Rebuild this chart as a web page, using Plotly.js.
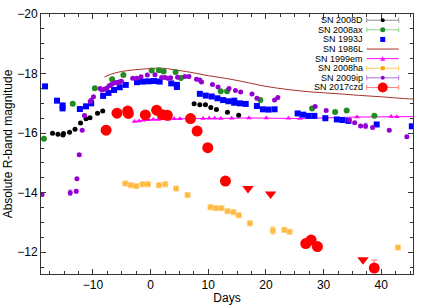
<!DOCTYPE html>
<html><head><meta charset="utf-8">
<script src="https://cdn.plot.ly/plotly-3.0.1.min.js"></script>
<style>html,body{margin:0;padding:0;background:#fff}#chart{width:436px;height:305px}</style>
</head><body><div id="chart"></div>
<script>
// ---- data (days since peak, absolute R magnitude) ----
const sn2008dDays = [-17.0,-16.06,-15.2,-15.1,-14.05,-13.1,-12.15,-11.2,-10.5,-9.2,-8.3,7.55,8.54,9.52,10.44,11.42,13.33,15.28];
const sn2008dMags = [-16.0,-15.96,-15.94,-15.99,-16.03,-16.13,-16.34,-16.48,-16.52,-16.67,-16.74,-16.99,-16.95,-16.95,-16.86,-16.79,-16.70,-16.60];

const sn2008axDays = [-18.5,-13.5,-9.66,-6.67,-4.72,0.19,1.45,2.26,4.34,5.25,12.17,13.26,19.03,28.0,32.0,34.0,38.8];
const sn2008axMags = [-15.81,-16.99,-17.51,-17.81,-17.95,-18.10,-18.11,-18.07,-18.05,-17.85,-17.41,-17.41,-17.11,-16.83,-16.71,-16.76,-16.58];

const sn1993jDays = [-18.3,-16.23,-15.26,-15.26,-12.26,-11.2,-10.3,-8.23,-7.3,-6.33,-5.34,-4.3,-2.35,-1.31,-0.33,0.59,1.57,3.58,4.56,4.56,8.54,9.57,10.6,11.6,12.57,13.5,14.5,14.5,15.5,16.5,18.44,19.48,20.46,21.5,25.5,26.46,27.4,28.4,30.3,32.3,33.25,34.3,39.2,45.3];
const sn1993jMags = [-17.57,-17.09,-16.93,-16.83,-16.81,-16.9,-17.0,-17.25,-17.35,-17.45,-17.54,-17.62,-17.71,-17.73,-17.74,-17.75,-17.73,-17.67,-17.62,-17.55,-17.32,-17.26,-17.23,-17.17,-17.11,-17.07,-17.09,-17.02,-17.0,-16.98,-16.91,-16.80,-16.79,-16.8,-16.66,-16.62,-16.58,-16.58,-16.50,-16.46,-16.44,-16.41,-16.29,-16.23];

const sn1986lDays = [-8,-6,-4,-2,0,2,4,7,10,13,16,20,24,28,32,36,40,44,46];
const sn1986lMags = [-17.89,-18.03,-18.10,-18.14,-18.17,-18.18,-18.13,-18.04,-17.93,-17.84,-17.73,-17.57,-17.46,-17.38,-17.33,-17.27,-17.22,-17.16,-17.14];

const sn1999emDays = [-2.8,-2.0,-1.26,-0.4,0.47,1.33,2.49,3.06,4.10,5.08,6.98,9.11,10.15,11.13,12.17,14.07,17.06,20.06,23.9,25.9,35.8,41.7,42.7,48];
const sn1999emMags = [-16.39,-16.41,-16.43,-16.45,-16.46,-16.46,-16.48,-16.47,-16.48,-16.48,-16.49,-16.49,-16.50,-16.50,-16.49,-16.50,-16.51,-16.51,-16.50,-16.49,-16.54,-16.56,-16.55,-16.56];

const sn2008haDays = [-4.37,-3.44,-2.47,-1.37,-0.45,1.45,2.54,4.44,6.41,10.39,11.3,12.29,13.33,14.36,15.28,17.23,21.2,23.2,24.1,42.9];
const sn2008haMags = [-14.31,-14.25,-14.22,-14.28,-14.28,-14.25,-14.28,-14.14,-13.92,-13.51,-13.48,-13.48,-13.38,-13.34,-13.24,-12.97,-12.73,-12.75,-12.69,-12.16];
const sn2008haErr  = [0.03,0.03,0.03,0.03,0.03,0.03,0.03,0.03,0.03,0.03,0.03,0.03,0.03,0.03,0.03,0.03,0.12,0.05,0.04,0.03];

const sn2009ipDays = [-18.82,-13.93,-12.89,-12.77,-12.37,-11.86,-11.46,-10.47,-10.30,-9.90,-8.75,-8.45,-8.0,-7.59,-7.19,-6.79,-6.33,-5.93,-5.46,-5.06,-3.09,-2.40,-1.66,-0.57,0.76,1.92,2.49,2.96,3.47,4.68,5.95,6.64,7.97,8.54,8.83,10.73,11.70,13.60,14.71,15.62,17.58,18.44,21.50,22.07,28.53,30.44,34.46,35.38,36.42,37.28,38.49,41.38,44.43];
const sn2009ipMags = [-13.94,-14.0,-14.05,-14.47,-15.27,-16.10,-16.59,-17.06,-17.10,-17.22,-17.50,-17.45,-17.47,-17.51,-17.59,-17.63,-17.68,-17.70,-17.72,-17.74,-17.84,-17.84,-17.89,-17.95,-17.96,-17.87,-17.87,-17.84,-17.86,-17.88,-17.90,-17.90,-17.81,-17.78,-17.72,-17.63,-17.55,-17.50,-17.43,-17.38,-17.31,-17.17,-17.11,-17.20,-16.89,-16.76,-16.43,-16.35,-16.24,-16.24,-16.19,-16.10,-15.88];
const sn2009ipErr  = [0.06,0.09,0.06,0.04,0.04,0.03,0.03,0.03,0.03,0.03,0.03,0.03,0.03,0.03,0.03,0.03,0.03,0.03,0.03,0.03,0.03,0.03,0.03,0.03,0.03,0.03,0.03,0.03,0.03,0.03,0.03,0.03,0.03,0.03,0.03,0.03,0.03,0.03,0.03,0.03,0.03,0.03,0.03,0.03,0.03,0.03,0.03,0.03,0.04,0.09,0.03,0.03,0.05];

const sn2017czdDays = [-7.71,-5.82,-3.96,-3.85,-0.91,1.05,2.05,2.9,6.93,8.07,9.92,12.98,26.91,27.84,28.93,38.78];
const sn2017czdMags = [-16.10,-16.67,-16.74,-16.66,-16.61,-16.77,-16.62,-16.60,-16.49,-16.07,-15.51,-14.39,-12.29,-12.41,-12.19,-11.47];
const sn2017czdErrUp = [0.05,0.05,0.05,0.05,0.05,0.05,0.05,0.05,0.05,0.05,0.05,0.05,0.08,0.08,0.08,0.27];
const sn2017czdLimDays = [16.89,20.81,36.83];
const sn2017czdLimMags = [-14.14,-13.96,-11.75];

const legendNames = ["SN 2008D","SN 2008ax","SN 1993J","SN 1986L","SN 1999em","SN 2008ha","SN 2009ip","SN 2017czd"];

// ---- traces ----
const C = {d:'#000000', ax:'#228b22', j:'#0000ff', l:'#a8322a', em:'#ff00ff', ha:'#ffa500', ip:'#9400d3', cz:'#ff0000'};
const traces = [
  {x:sn1986lDays, y:sn1986lMags, mode:'lines', line:{color:C.l, width:1, shape:'spline'}},
  {x:sn1999emDays, y:sn1999emMags, mode:'lines+markers', line:{color:C.em, width:1}, marker:{symbol:'triangle-up', size:5, color:C.em}},
  {x:sn2008dDays, y:sn2008dMags, mode:'markers', marker:{symbol:'circle', size:5, color:C.d},
   error_y:{type:'constant', value:0.02, color:'#888', thickness:1, width:1}},
  {x:sn2008axDays, y:sn2008axMags, mode:'markers', marker:{symbol:'circle', size:6, color:C.ax},
   error_y:{type:'constant', value:0.02, color:'#8fd18f', thickness:1, width:1}},
  {x:sn1993jDays, y:sn1993jMags, mode:'markers', marker:{symbol:'square', size:6, color:C.j}},
  {x:sn2008haDays, y:sn2008haMags, mode:'markers', marker:{symbol:'square-x', size:5, color:C.ha, line:{color:'#ffd080', width:1}},
   error_y:{type:'data', array:sn2008haErr, color:'#ffc060', thickness:1, width:2}},
  {x:sn2009ipDays, y:sn2009ipMags, mode:'markers', marker:{symbol:'circle', size:5, color:C.ip},
   error_y:{type:'data', array:sn2009ipErr, color:'#b070e0', thickness:1, width:2}},
  {x:sn2017czdDays, y:sn2017czdMags, mode:'markers', marker:{symbol:'circle', size:11, color:C.cz},
   error_y:{type:'data', array:sn2017czdErrUp.map(()=>0.05), arrayminus:sn2017czdErrUp, color:'#ff7070', thickness:1, width:3}},
  {x:sn2017czdLimDays, y:sn2017czdLimMags, mode:'markers', marker:{symbol:'triangle-down', size:10, color:C.cz}}
];
traces.forEach(t=>{t.showlegend=false; t.type='scatter'; t.hoverinfo='skip';});

// ---- custom legend (pixel layout -> paper) ----
const L=41, R=413.3, T=14.3, B=274;
const px = v => (v-L)/(R-L);
const py = v => (B-v)/(B-T);
const annotations = [], shapes = [];
const rowY0 = 20.5, rowDY = 9.6, textX = 364, lx0 = 367, lx1 = 399, mx = 383;
const legendStyle = [
  {bar:'#909090', mk:{t:'circle', r:2, c:C.d}},
  {bar:'#90d090', mk:{t:'circle', r:2.5, c:C.ax}},
  {bar:null, mk:{t:'rect', r:2.5, c:C.j}},
  {bar:C.l, line:true, mk:null},
  {bar:C.em, line:true, mk:{t:'tri', r:2, c:C.em}},
  {bar:'#ffc860', mk:{t:'rect', r:2, c:C.ha}},
  {bar:'#b070e0', mk:{t:'circle', r:2, c:C.ip}},
  {bar:'#ff8080', mk:{t:'circle', r:5, c:C.cz}}
];
legendNames.forEach((name,i)=>{
  const y = rowY0 + i*rowDY;
  annotations.push({xref:'paper', yref:'paper', x:px(textX), y:py(y), xanchor:'right', yanchor:'middle',
    text:name, showarrow:false, borderpad:0, font:{size:9, color:'#000'}});
  const st = legendStyle[i];
  if (st.bar) {
    shapes.push({type:'line', xref:'paper', yref:'paper', x0:px(lx0), x1:px(lx1), y0:py(y), y1:py(y), line:{color:st.bar, width:1}});
    if (!st.line) {
      [lx0,lx1].forEach(xx=>shapes.push({type:'line', xref:'paper', yref:'paper', x0:px(xx), x1:px(xx), y0:py(y-2.5), y1:py(y+2.5), line:{color:st.bar, width:1}}));
    }
  }
  if (st.mk) {
    const m = st.mk;
    if (m.t==='tri') {
      shapes.push({type:'path', xref:'paper', yref:'paper', xsizemode:'pixel', ysizemode:'pixel', xanchor:px(mx), yanchor:py(y),
        path:`M ${-m.r-0.5} ${-m.r} L ${m.r+0.5} ${-m.r} L 0 ${m.r+0.5} Z`, fillcolor:m.c, line:{width:0}});
    } else {
      shapes.push({type:m.t, xref:'paper', yref:'paper', xsizemode:'pixel', ysizemode:'pixel', xanchor:px(mx), yanchor:py(y),
        x0:-m.r, x1:m.r, y0:-m.r, y1:m.r, fillcolor:m.c, line:{width:0}});
    }
  }
});

const axisCommon = {ticks:'inside', ticklen:5, tickwidth:1, tickcolor:'#333', mirror:'allticks', showline:true,
  linecolor:'#333', linewidth:1, showgrid:false, zeroline:false, tickfont:{size:12, color:'#000'}};

const layout = {
  width:436, height:305,
  margin:{l:L, r:436-R, t:T, b:305-B},
  paper_bgcolor:'#fff', plot_bgcolor:'#fff',
  font:{family:'"Liberation Sans", Arial, sans-serif', size:12, color:'#000'},
  showlegend:false,
  xaxis: Object.assign({}, axisCommon, {range:[-19.0,45.5], tick0:0, dtick:10,
    minor:{dtick:2.5, ticks:'inside', ticklen:3, tickcolor:'#333'},
    title:{text:'Days', font:{size:12}, standoff:2}}),
  yaxis: Object.assign({}, axisCommon, {range:[-11.27,-20], tick0:0, dtick:2,
    minor:{dtick:0.5, ticks:'inside', ticklen:3, tickcolor:'#333'},
    title:{text:'Absolute R-band magnitude', font:{size:12}, standoff:2}}),
  annotations, shapes
};
Plotly.newPlot('chart', traces, layout, {displayModeBar:false, staticPlot:true});
</script></body></html>
